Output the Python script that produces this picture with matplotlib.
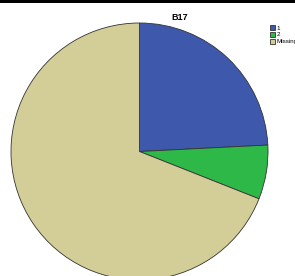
import matplotlib
matplotlib.use("Agg")
import matplotlib.pyplot as plt
from matplotlib.patches import Rectangle

title = "B17"
categories = ["1", "2", "Missing"]
values = [24.2, 6.8, 69.0]
colors = ["#3E58AC", "#2EB848", "#D3CE97"]

W, H = 295, 276
fig = plt.figure(figsize=(W / 100, H / 100), dpi=100)
fig.patch.set_facecolor("white")

# black strip at top
fig.add_artist(Rectangle((0, 1 - 3 / H), 1, 3 / H, transform=fig.transFigure,
                         facecolor="black", edgecolor="none"))

cx, cy, r = 139.5, 151.5, 128.5
ax = fig.add_axes([(cx - r) / W, (H - cy - r) / H, 2 * r / W, 2 * r / H])
wedges, _ = ax.pie(values, colors=colors, startangle=90, counterclock=False,
                   radius=1, wedgeprops=dict(edgecolor="#333333", linewidth=0.6))
for w in wedges:
    w.set_clip_on(False)
ax.set_xlim(-1, 1)
ax.set_ylim(-1, 1)
ax.set_aspect("equal")
ax.axis("off")

fig.text(180 / W, 1 - 17 / H, title, ha="center", va="center",
         fontsize=6.5, fontweight="bold", family="Liberation Sans")

leg = fig.legend(wedges, categories, loc="upper left",
                 bbox_to_anchor=(266.5 / W, 1 - 22 / H), frameon=False,
                 handlelength=0.8, handleheight=0.8,
                 handletextpad=0.3, labelspacing=0.2, borderpad=0,
                 prop={"family": "Liberation Sans", "size": 4.5})

fig.savefig("out.png", dpi=100)
